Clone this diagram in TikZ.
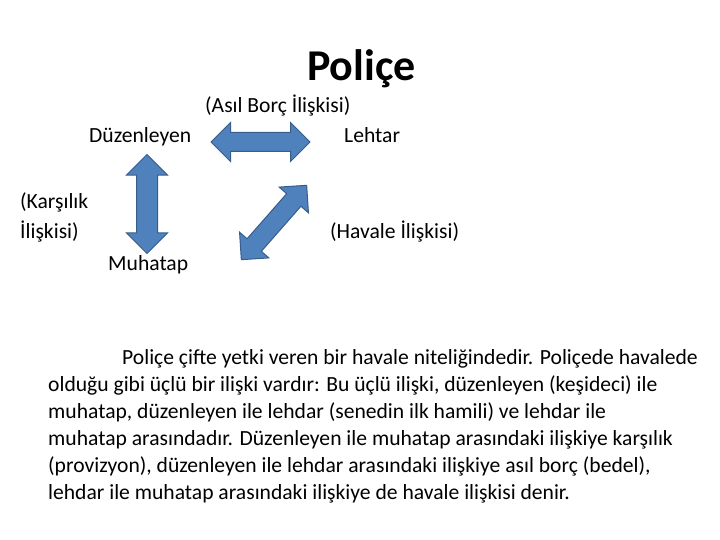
\documentclass[tikz,border=0pt]{standalone}
\usepackage{fontspec}
\setmainfont{Carlito}
\usetikzlibrary{shapes.arrows}
\definecolor{arrowfill}{HTML}{4F81BD}
\definecolor{arrowline}{HTML}{385D8A}
\tikzset{%
  dblarrow/.style = {double arrow, draw=arrowline, fill=arrowfill, line width=1pt,
    inner xsep=0pt, inner ysep=9pt, minimum height=99pt, minimum width=38pt,
    double arrow head extend=10pt, double arrow tip angle=90}, % Block arrow
  tag/.style      = {font=\fontsize{21.6}{30}\selectfont, inner sep=0pt, anchor=base west}, % Party / relation
  heading/.style  = {font=\fontsize{44}{52}\selectfont\bfseries, inner sep=0pt, anchor=base west},
  body/.style     = {font=\fontsize{21.6}{27}\selectfont, inner sep=0pt, align=left, anchor=north west}
}
\begin{document}
\begin{tikzpicture}[x=1pt, y=-1pt]
\useasboundingbox (0,0) rectangle (720,540);
\node [heading, name=title] at (307,81) {Poliçe};
\node [tag, name=duzenleyen] at (89,143) {Düzenleyen};
\node [tag, name=lehtar] at (344,143) {Lehtar};
\node [tag, name=muhatap] at (108,270) {Muhatap};
\node [tag, name=asilborc] at (205,113) {(Asıl Borç İlişkisi)};
\node [tag, name=karsilik, align=left] at (20,238) {(Karşılık\\İlişkisi)};
\node [tag, name=havale] at (330,238) {(Havale İlişkisi)};
\node [dblarrow, name=arrowDL] at (260.5,142) {};
\node [dblarrow, name=arrowDM, rotate=90, inner ysep=10pt, minimum width=40pt] at (147,204) {};
\node [dblarrow, name=arrowLM, rotate=48.7] at (274,222.5) {};
\node [body, name=text] at (48,349) {\hspace*{74pt}Poliçe çifte yetki veren bir havale niteliğindedir. Poliçede havalede\\
olduğu gibi üçlü bir ilişki vardır: Bu üçlü ilişki, düzenleyen (keşideci) ile\\
muhatap, düzenleyen ile lehdar (senedin ilk hamili) ve lehdar ile\\
muhatap arasındadır. Düzenleyen ile muhatap arasındaki ilişkiye karşılık\\
(provizyon), düzenleyen ile lehdar arasındaki ilişkiye asıl borç (bedel),\\
lehdar ile muhatap arasındaki ilişkiye de havale ilişkisi denir.};
\end{tikzpicture}
\end{document}
